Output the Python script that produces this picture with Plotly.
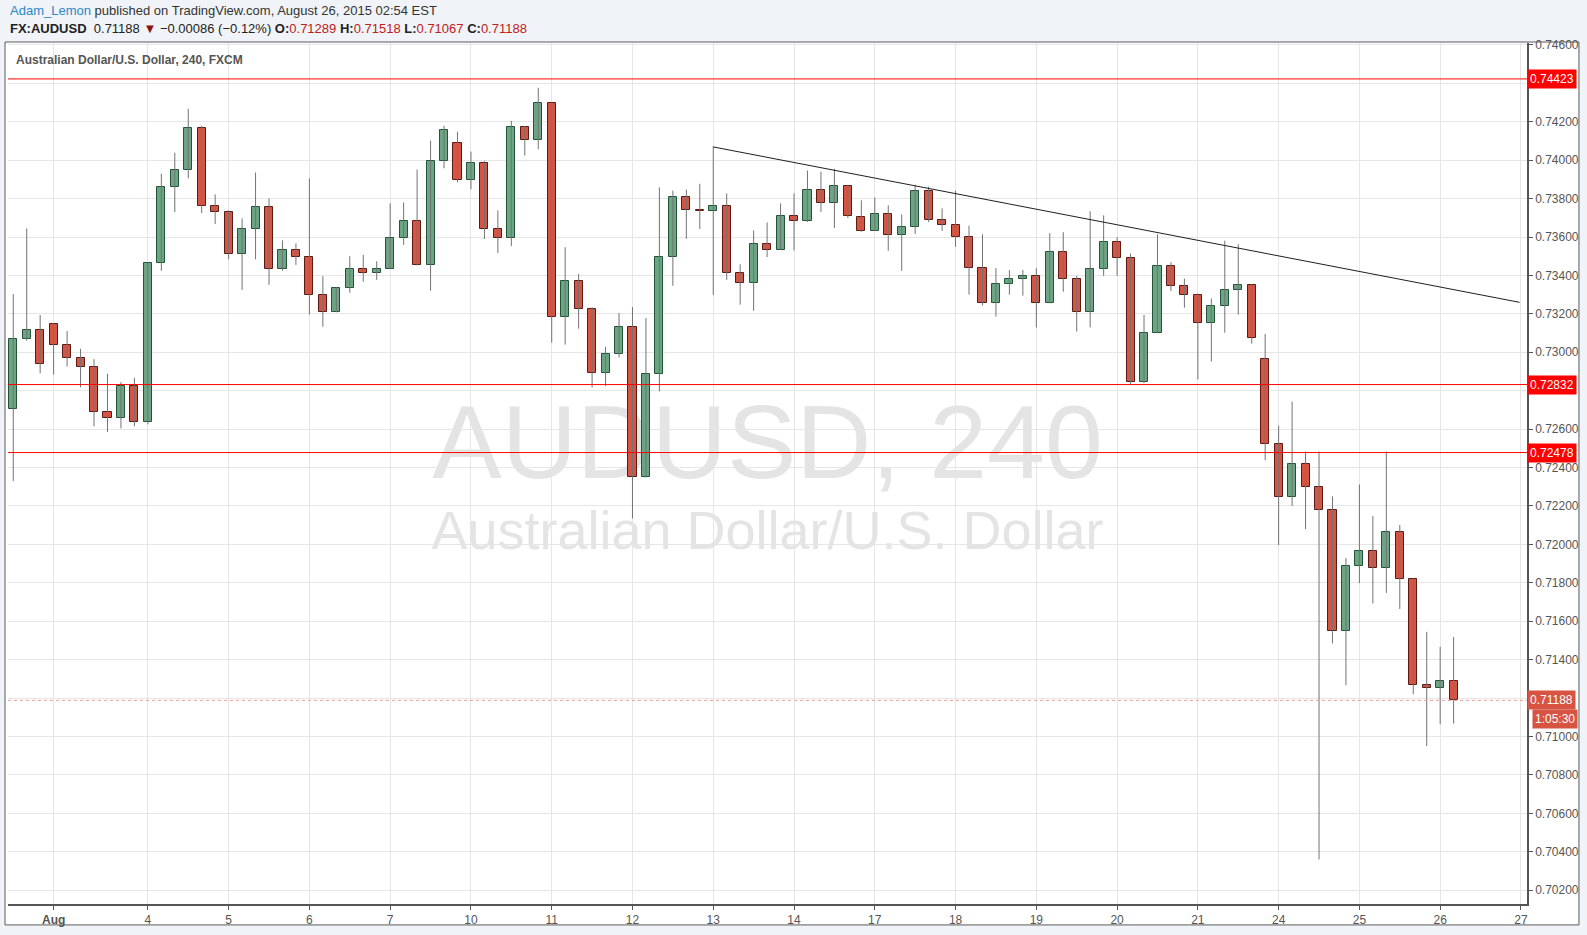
import plotly.graph_objects as go

# ---------------- data ----------------
bar_index = list(range(108))
opens = [0.72705, 0.73068, 0.73114, 0.73146, 0.73037, 0.72969, 0.72922, 0.72689, 0.72658, 0.72824,
         0.72637, 0.73467, 0.73861, 0.73949, 0.74167, 0.73763, 0.73732, 0.73514, 0.73643, 0.73758,
         0.73436, 0.73535, 0.73498, 0.73296, 0.73208, 0.73337, 0.73436, 0.73415, 0.73436, 0.73597,
         0.73685, 0.73452, 0.73996, 0.74090, 0.73898, 0.73986, 0.73643, 0.73597, 0.74172, 0.74105,
         0.74297, 0.73182, 0.73369, 0.73223, 0.72891, 0.72990, 0.73130, 0.72352, 0.72886, 0.73498,
         0.73809, 0.73740, 0.73737, 0.73763, 0.73415, 0.73363, 0.73566, 0.73535, 0.73711, 0.73685,
         0.73846, 0.73779, 0.73867, 0.73706, 0.73632, 0.73722, 0.73611, 0.73654, 0.73841, 0.73690,
         0.73665, 0.73602, 0.73441, 0.73255, 0.73353, 0.73384, 0.73395, 0.73255, 0.73524, 0.73379,
         0.73208, 0.73436, 0.73576, 0.73493, 0.72845, 0.73099, 0.73447, 0.73343, 0.73296, 0.73151,
         0.73239, 0.73322, 0.73348, 0.72964, 0.72523, 0.72248, 0.72419, 0.72300, 0.72181, 0.71548,
         0.71886, 0.71963, 0.71879, 0.72062, 0.71818, 0.71268, 0.71251, 0.71289]
highs = [0.73303, 0.73645, 0.73194, 0.73151, 0.73111, 0.73018, 0.72964, 0.72888, 0.72845, 0.72867,
         0.73467, 0.73930, 0.74039, 0.74268, 0.74179, 0.73822, 0.73739, 0.73697, 0.73936, 0.73801,
         0.73583, 0.73567, 0.73905, 0.73396, 0.73337, 0.73500, 0.73507, 0.73474, 0.73775, 0.73780,
         0.73951, 0.74102, 0.74179, 0.74148, 0.74045, 0.73996, 0.73739, 0.74205, 0.74178, 0.74377,
         0.74300, 0.73547, 0.73407, 0.73234, 0.73028, 0.73204, 0.73235, 0.73178, 0.73858, 0.73842,
         0.73847, 0.73877, 0.74072, 0.73827, 0.73458, 0.73635, 0.73676, 0.73775, 0.73827, 0.73946,
         0.73941, 0.73955, 0.73872, 0.73791, 0.73806, 0.73765, 0.73718, 0.73872, 0.73862, 0.73749,
         0.73841, 0.73659, 0.73614, 0.73438, 0.73428, 0.73428, 0.73438, 0.73620, 0.73625, 0.73398,
         0.73734, 0.73713, 0.73599, 0.73514, 0.73194, 0.73614, 0.73469, 0.73384, 0.73306, 0.73280,
         0.73581, 0.73562, 0.73353, 0.73095, 0.72618, 0.72743, 0.72483, 0.72483, 0.72250, 0.71929,
         0.72312, 0.72147, 0.72483, 0.72101, 0.71823, 0.71545, 0.71467, 0.71518]
lows = [0.72329, 0.73060, 0.72890, 0.72884, 0.72926, 0.72817, 0.72615, 0.72585, 0.72604, 0.72615,
        0.72625, 0.73424, 0.73730, 0.73906, 0.73725, 0.73668, 0.73484, 0.73325, 0.73484, 0.73351,
        0.73424, 0.73455, 0.73196, 0.73133, 0.73208, 0.73310, 0.73367, 0.73377, 0.73436, 0.73559,
        0.73452, 0.73320, 0.73958, 0.73885, 0.73849, 0.73590, 0.73517, 0.73553, 0.74024, 0.74057,
        0.73050, 0.73040, 0.73123, 0.72817, 0.72824, 0.72973, 0.72135, 0.72347, 0.72796, 0.73346,
        0.73590, 0.73642, 0.73299, 0.73377, 0.73248, 0.73216, 0.73496, 0.73535, 0.73530, 0.73678,
        0.73730, 0.73647, 0.73699, 0.73627, 0.73632, 0.73528, 0.73424, 0.73616, 0.73678, 0.73632,
        0.73549, 0.73300, 0.73243, 0.73186, 0.73300, 0.73295, 0.73129, 0.73255, 0.73315, 0.73108,
        0.73129, 0.73398, 0.73398, 0.72835, 0.72840, 0.73099, 0.73319, 0.73232, 0.72859, 0.72952,
        0.73102, 0.73196, 0.73045, 0.72438, 0.71996, 0.72200, 0.72080, 0.70360, 0.71484, 0.71267,
        0.71799, 0.71692, 0.71747, 0.71664, 0.71220, 0.70950, 0.71064, 0.71067]
closes = [0.73068, 0.73114, 0.72938, 0.73037, 0.72969, 0.72922, 0.72689, 0.72658, 0.72824, 0.72637,
          0.73467, 0.73861, 0.73949, 0.74167, 0.73763, 0.73732, 0.73514, 0.73643, 0.73758, 0.73436,
          0.73535, 0.73498, 0.73296, 0.73208, 0.73337, 0.73436, 0.73415, 0.73436, 0.73597, 0.73685,
          0.73452, 0.73996, 0.74157, 0.73898, 0.73986, 0.73643, 0.73597, 0.74172, 0.74105, 0.74297,
          0.73182, 0.73369, 0.73223, 0.72891, 0.72990, 0.73130, 0.72352, 0.72886, 0.73498, 0.73809,
          0.73742, 0.73737, 0.73763, 0.73415, 0.73363, 0.73566, 0.73535, 0.73711, 0.73685, 0.73846,
          0.73779, 0.73867, 0.73711, 0.73632, 0.73722, 0.73611, 0.73654, 0.73841, 0.73690, 0.73665,
          0.73602, 0.73441, 0.73255, 0.73353, 0.73384, 0.73395, 0.73255, 0.73524, 0.73379, 0.73208,
          0.73436, 0.73576, 0.73493, 0.72845, 0.73099, 0.73447, 0.73343, 0.73296, 0.73151, 0.73239,
          0.73322, 0.73348, 0.73073, 0.72523, 0.72248, 0.72419, 0.72300, 0.72181, 0.71548, 0.71886,
          0.71963, 0.71879, 0.72062, 0.71818, 0.71267, 0.71251, 0.71289, 0.71188]

tick_index = [3, 10, 16, 22, 28, 34, 40, 46, 52, 58, 64, 70, 76, 82, 88, 94, 100, 106, 112]
tick_text = ["<b>Aug</b>", "4", "5", "6", "7", "10", "11", "12", "13", "14",
             "17", "18", "19", "20", "21", "24", "25", "26", "27"]

price_ticks = [0.702, 0.704, 0.706, 0.708, 0.710, 0.712, 0.714, 0.716, 0.718, 0.720, 0.722, 0.724,
               0.726, 0.728, 0.730, 0.732, 0.734, 0.736, 0.738, 0.740, 0.742, 0.744, 0.746]
# labels hidden behind the price boxes in the reference are left blank
price_tick_text = ["0.70200", "0.70400", "0.70600", "0.70800", "0.71000", "", "0.71400", "0.71600",
                   "0.71800", "0.72000", "0.72200", "0.72400", "0.72600", "", "0.73000", "0.73200",
                   "0.73400", "0.73600", "0.73800", "0.74000", "0.74200", "", "0.74600"]

level_prices = [0.74423, 0.72832, 0.72478]
last_price = 0.71188
countdown = "1:05:30"
trend_x = [52, 111.9]
trend_y = [0.74069, 0.73260]

# ---------------- styling ----------------
UP_FILL, UP_LINE = "#6ba583", "#225437"
DN_FILL, DN_LINE = "#d75442", "#5b1a13"
WICK = "#737375"
GRID = "#e6e6e6"
AXIS = "#555555"
FONT = "Liberation Sans, Arial, sans-serif"

is_up = [c >= o for o, c in zip(opens, closes)]

fig = go.Figure()

# watermark on its own hidden axes (drawn below candles)
fig.add_trace(go.Scatter(
    x=[0.5, 0.5], y=[0.5245, 0.428], mode="text",
    text=["AUDUSD, 240", "Australian Dollar/U.S. Dollar"],
    textfont=dict(family=FONT, size=[104, 54], color="#e4e4e4"),
    textposition="middle center", hoverinfo="skip", showlegend=False,
    xaxis="x", yaxis="y"))

# wicks
wx, wy = [], []
for i, lo, hi in zip(bar_index, lows, highs):
    wx += [i, i, None]
    wy += [lo, hi, None]
fig.add_trace(go.Scatter(x=wx, y=wy, mode="lines", line=dict(color=WICK, width=1),
                         hoverinfo="skip", showlegend=False, xaxis="x2", yaxis="y2"))

# bodies
body_base = [min(o, c) for o, c in zip(opens, closes)]
body_h = [max(abs(c - o), 0.00002) for o, c in zip(opens, closes)]
fig.add_trace(go.Bar(
    x=bar_index, y=body_h, base=body_base, width=0.6,
    marker=dict(color=[UP_FILL if u else DN_FILL for u in is_up],
                line=dict(color=[UP_LINE if u else DN_LINE for u in is_up], width=1)),
    hoverinfo="skip", showlegend=False, xaxis="x2", yaxis="y2"))

# trend line
fig.add_trace(go.Scatter(x=trend_x, y=trend_y, mode="lines", line=dict(color="#1f1f1f", width=1),
                         hoverinfo="skip", showlegend=False, xaxis="x2", yaxis="y2"))

shapes = []
# frame
shapes.append(dict(type="rect", xref="paper", yref="paper",
                   x0=-0.00197, x1=1.03421, y0=-0.0243, y1=1.00116,
                   line=dict(color="#5a5a5a", width=1), fillcolor="white", layer="below"))
for lv in level_prices:
    shapes.append(dict(type="line", xref="paper", yref="y2", x0=0, x1=1, y0=lv, y1=lv,
                       line=dict(color="#ff0000", width=1)))
shapes.append(dict(type="line", xref="paper", yref="y2", x0=0, x1=1, y0=last_price, y1=last_price,
                   line=dict(color="#eb9c96", width=1, dash="3px,3px")))

ann = []
for lv in level_prices:
    ann.append(dict(xref="paper", yref="y2", x=1, y=lv, xanchor="left", yanchor="middle",
                    text=f"{lv:.5f}", showarrow=False, bgcolor="#ff0000", borderpad=2,
                    font=dict(family=FONT, size=12, color="white")))
ann.append(dict(xref="paper", yref="y2", x=1, y=last_price, xanchor="left", yanchor="middle",
                text=f"{last_price:.5f}", showarrow=False, bgcolor="#d75442", borderpad=2,
                font=dict(family=FONT, size=12, color="white")))
ann.append(dict(xref="paper", yref="y2", x=1, y=last_price, xanchor="left", yanchor="middle",
                text=countdown, showarrow=False, bgcolor="#d75442", borderpad=2, yshift=-19, xshift=5,
                font=dict(family=FONT, size=12, color="white")))

# header
ann.append(dict(xref="paper", yref="paper", x=0, y=1.038, xanchor="left", yanchor="middle",
                showarrow=False, font=dict(family=FONT, size=13, color="#333333"),
                text="<span style='color:#2a88c8'>Adam_Lemon</span> published on TradingView.com, August 26, 2015 02:54 EST"))
RED = "#c0201a"
ann.append(dict(xref="paper", yref="paper", x=0, y=1.0174, xanchor="left", yanchor="middle",
                showarrow=False, font=dict(family=FONT, size=13, color="#222222"),
                text=("<b>FX:AUDUSD</b>  0.71188 <span style='color:#8b1212'>▼</span> −0.00086 (−0.12%) "
                      f"<b>O:</b><span style='color:{RED}'>0.71289</span> "
                      f"<b>H:</b><span style='color:{RED}'>0.71518</span> "
                      f"<b>L:</b><span style='color:{RED}'>0.71067</span> "
                      f"<b>C:</b><span style='color:{RED}'>0.71188</span>")))
ann.append(dict(xref="paper", yref="paper", x=0.004, y=0.980, xanchor="left", yanchor="middle",
                showarrow=False, font=dict(family=FONT, size=12, color="#555555"),
                text="<b>Australian Dollar/U.S. Dollar, 240, FXCM</b>"))

fig.update_layout(
    width=1587, height=935,
    margin=dict(l=8, r=59, t=43, b=28),
    paper_bgcolor="#f0f3f7", plot_bgcolor="white",
    showlegend=False, bargap=0,
    xaxis=dict(range=[0, 1], visible=False, fixedrange=True),
    yaxis=dict(range=[0, 1], visible=False, fixedrange=True),
    xaxis2=dict(overlaying="x", anchor="y2", side="bottom", range=[-0.39, 112.45],
                tickmode="array", tickvals=tick_index, ticktext=tick_text,
                showgrid=True, gridcolor=GRID, gridwidth=1, zeroline=False,
                showline=True, linecolor=AXIS, linewidth=1.5,
                ticks="outside", ticklen=4, tickcolor=AXIS,
                tickfont=dict(family="Liberation Sans Narrow, Liberation Sans, Arial", size=12, color="#555555")),
    yaxis2=dict(overlaying="y", anchor="x2", side="right", range=[0.70128, 0.74610],
                tickmode="array", tickvals=price_ticks, ticktext=price_tick_text,
                showgrid=True, gridcolor=GRID, gridwidth=1, zeroline=False,
                showline=True, linecolor=AXIS, linewidth=1.5,
                ticks="outside", ticklen=4, tickcolor=AXIS,
                tickfont=dict(family=FONT, size=12, color="#555555")),
    shapes=shapes, annotations=ann,
)

fig.write_html("out.html", config={"displayModeBar": False},
               post_script="document.body.style.margin='0px';document.body.style.overflow='hidden';")
